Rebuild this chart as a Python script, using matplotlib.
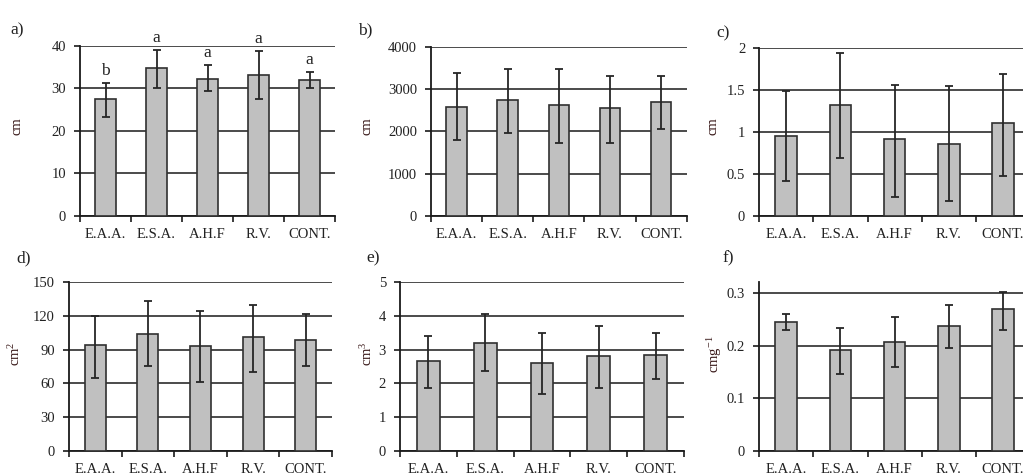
import matplotlib
matplotlib.use("Agg")
import matplotlib.pyplot as plt
import numpy as np

plt.rcParams["font.family"] = ["Liberation Serif", "DejaVu Serif"]
plt.rcParams["mathtext.fontset"] = "custom"
plt.rcParams["mathtext.rm"] = "Liberation Serif"
plt.rcParams["mathtext.it"] = "Liberation Serif:italic"

categories = ["E.A.A.", "E.S.A.", "A.H.F", "R.V.", "CONT."]

# means and upper/lower ends of the error bars
a_mean = [27.5, 34.7, 32.3, 33.2, 32.1]
a_high = [31.3, 39.0, 35.5, 38.8, 33.8]
a_low = [23.2, 30.0, 29.3, 27.4, 30.2]
a_letters = ["b", "a", "a", "a", "a"]

b_mean = [2590, 2740, 2620, 2550, 2705]
b_high = [3380, 3470, 3470, 3315, 3320]
b_low = [1800, 1970, 1725, 1730, 2060]

c_mean = [0.95, 1.32, 0.91, 0.85, 1.10]
c_high = [1.49, 1.93, 1.56, 1.54, 1.69]
c_low = [0.41, 0.69, 0.23, 0.18, 0.48]

d_mean = [94, 104, 93, 101, 99]
d_high = [120, 133, 124, 130, 122]
d_low = [65, 75, 61, 70, 75]

e_mean = [2.65, 3.20, 2.60, 2.80, 2.83]
e_high = [3.40, 4.07, 3.49, 3.69, 3.49]
e_low = [1.87, 2.36, 1.69, 1.87, 2.12]

f_mean = [0.245, 0.192, 0.208, 0.238, 0.269]
f_high = [0.261, 0.234, 0.255, 0.278, 0.303]
f_low = [0.230, 0.146, 0.160, 0.196, 0.230]

panels = [
    # tag, mean, high, low, ylim, yticks, tick labels, ylabel, axes rect, tag pos, ylabel pos
    ("a)", a_mean, a_high, a_low, (0, 40), [0, 10, 20, 30, 40], None, "cm",
     [0.0782, 0.5453, 0.2493, 0.358], (0.010, 0.935), (0.017, 0.735)),
    ("b)", b_mean, b_high, b_low, (0, 4000), [0, 1000, 2000, 3000, 4000], None, "cm",
     [0.4213, 0.5453, 0.2500, 0.3558], (0.350, 0.935), (0.359, 0.735)),
    ("c)", c_mean, c_high, c_low, (0, 2), [0, 0.5, 1, 1.5, 2], ["0", "0.5", "1", "1.5", "2"], "cm",
     [0.7420, 0.5453, 0.2650, 0.3545], (0.700, 0.930), (0.697, 0.735)),
    ("d)", d_mean, d_high, d_low, (0, 150), [0, 30, 60, 90, 120, 150], None, "cm$^{2}$",
     [0.0674, 0.0512, 0.2571, 0.3545], (0.016, 0.455), (0.015, 0.255)),
    ("e)", e_mean, e_high, e_low, (0, 5), [0, 1, 2, 3, 4, 5], None, "cm$^{3}$",
     [0.3910, 0.0512, 0.2776, 0.3545], (0.358, 0.455), (0.359, 0.255)),
    ("f)", f_mean, f_high, f_low, (0, 0.322), [0, 0.1, 0.2, 0.3], ["0", "0.1", "0.2", "0.3"], "cmg$^{-1}$",
     [0.7420, 0.0512, 0.2650, 0.3558], (0.706, 0.455), (0.698, 0.255)),
]

fig = plt.figure(figsize=(10.23, 4.75), dpi=100)
x = np.arange(len(categories))
txt = "#222222"

for tag, mean, high, low, ylim, yticks, ylabels, ylab, rect, tagpos, labpos in panels:
    ax = fig.add_axes(rect)
    mean = np.array(mean)
    err = [mean - np.array(low), np.array(high) - mean]
    ax.bar(x, mean, width=0.4, color="#c0c0c0", edgecolor="#303030", linewidth=1.2, zorder=3)
    ax.errorbar(x, mean, yerr=err, fmt="none", ecolor="#262626", elinewidth=1.3,
                capsize=3, capthick=1.3, zorder=4)
    ax.set_xlim(-0.5, 4.5)
    ax.set_ylim(*ylim)
    ax.set_yticks(yticks)
    if ylabels:
        ax.set_yticklabels(ylabels)
    ax.yaxis.grid(True, color="#1a1a1a", linewidth=1.1, zorder=1)
    ax.set_axisbelow(True)
    for s in ["top", "right"]:
        ax.spines[s].set_visible(False)
    for s in ["left", "bottom"]:
        ax.spines[s].set_color("#1a1a1a")
        ax.spines[s].set_linewidth(1.3)
    ax.set_xticks(np.arange(-0.5, 5, 1))
    ax.set_xticklabels([])
    ax.set_xticks(x, minor=True)
    ax.set_xticklabels(categories, minor=True)
    ax.tick_params(axis="x", which="major", direction="out", length=4, width=1.2, color="#1a1a1a")
    ax.tick_params(axis="x", which="minor", length=0, pad=9, labelsize=10.5, labelcolor=txt)
    ax.tick_params(axis="y", direction="out", length=4, width=1.2, color="#1a1a1a",
                   labelsize=10.5, labelcolor=txt, pad=6)
    fig.text(tagpos[0], tagpos[1], tag, fontsize=12.5, color=txt, ha="left", va="center")
    fig.text(labpos[0], labpos[1], ylab, fontsize=10.5, color="#3a1a1a", rotation=90,
             ha="center", va="center")
    if tag == "a)":
        for xi, h, letter in zip(x, high, a_letters):
            ax.annotate(letter, (xi, h), xytext=(0, 3), textcoords="offset points",
                        ha="center", va="bottom", fontsize=12.5, color=txt, annotation_clip=False)

fig.savefig("out.png", dpi=100)
